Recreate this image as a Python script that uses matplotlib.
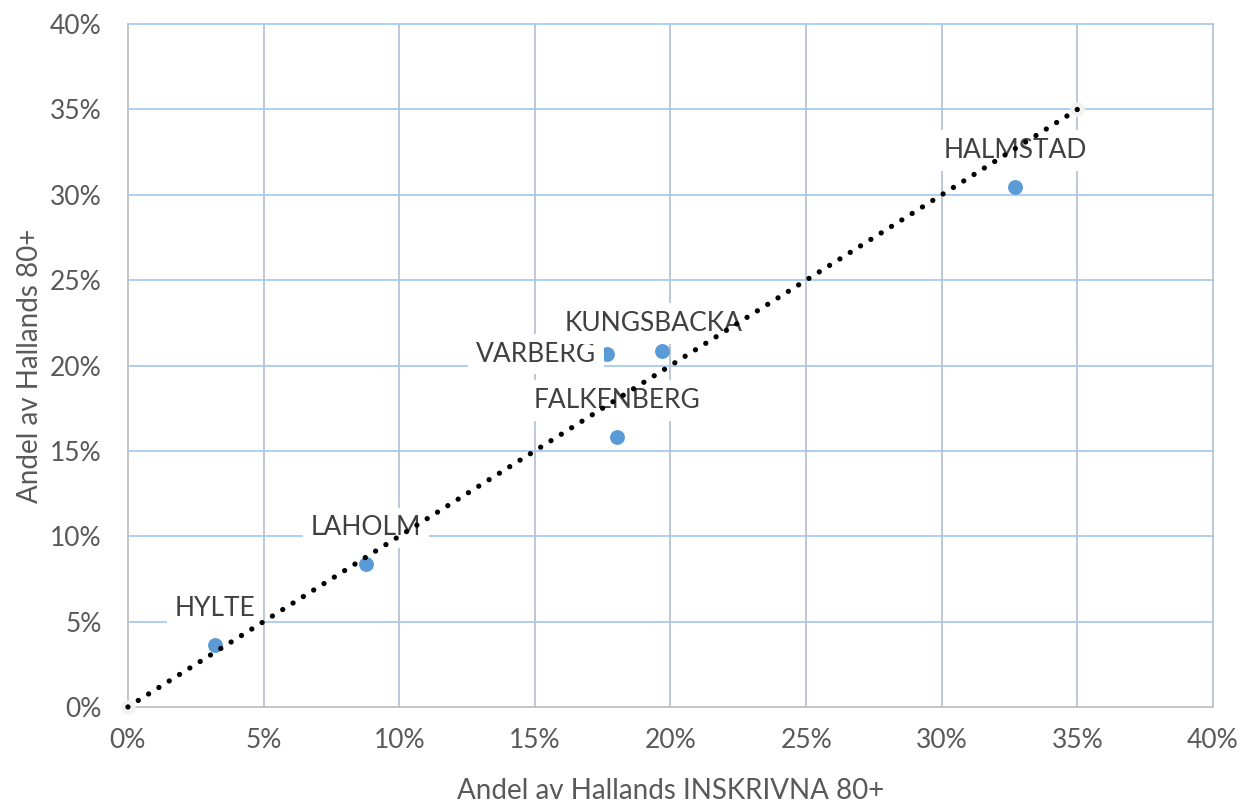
import matplotlib
matplotlib.use("Agg")
import matplotlib.pyplot as plt
from matplotlib.ticker import FuncFormatter, MultipleLocator

# Share of Halland's registered 80+ (x) vs share of Halland's 80+ (y), in percent
municipalities = ["HYLTE", "LAHOLM", "VARBERG", "KUNGSBACKA", "FALKENBERG", "HALMSTAD"]
share_registered = [3.2, 8.77, 17.66, 19.69, 18.03, 32.70]
share_population = [3.63, 8.37, 20.67, 20.85, 15.81, 30.45]

# Label offsets in points (dx, dy) relative to each point
label_offsets = [(0, 26.5), (0, 26), (-51, 0), (-6, 19.5), (0, 26.5), (0, 26.5)]

# Reference line
ref_x = [0, 35]
ref_y = [0, 35]

plt.rcParams["font.family"] = ["Lato", "DejaVu Sans"]

fig = plt.figure(figsize=(12.42, 8.02), dpi=100)
ax = fig.add_axes([0.103, 0.1185, 0.8737, 0.8515])

ax.set_xlim(0, 40)
ax.set_ylim(0, 40)
ax.xaxis.set_major_locator(MultipleLocator(5))
ax.yaxis.set_major_locator(MultipleLocator(5))
pct = FuncFormatter(lambda v, p: f"{v:.0f}%")
ax.xaxis.set_major_formatter(pct)
ax.yaxis.set_major_formatter(pct)

# Grid: horizontal lines light blue, vertical lines grey-blue
for v in range(5, 45, 5):
    ax.axhline(v, color="#A8CBEE", lw=1.3, zorder=0, clip_on=False)
    ax.axvline(v, color="#B5C4D8", lw=1.3, zorder=0, clip_on=False)

for s in ["top", "right"]:
    ax.spines[s].set_visible(False)
for s in ["left", "bottom"]:
    ax.spines[s].set_color("#BFBFBF")
    ax.spines[s].set_linewidth(1.3)

ax.tick_params(length=0, labelsize=19, labelcolor="#595959")
ax.tick_params(axis="y", pad=19)
ax.tick_params(axis="x", pad=15)
ax.set_xlabel("Andel av Hallands INSKRIVNA 80+", fontsize=20, color="#595959", labelpad=18)
ax.set_ylabel("Andel av Hallands 80+", fontsize=20, color="#595959", labelpad=5)

# Points
ax.scatter(share_registered, share_population, s=115, color="#5B9BD5", zorder=3,
           clip_on=False, linewidths=0)

# Data labels
for name, x, y, (dx, dy) in zip(municipalities, share_registered, share_population, label_offsets):
    ax.annotate(name, (x, y), xytext=(dx, dy), textcoords="offset points",
                ha="center", va="center", fontsize=19, color="#404040", zorder=4,
                bbox=dict(boxstyle="square,pad=0.3", fc="white", ec="none"))

# Dotted reference line with pale end markers
ax.plot(ref_x, ref_y, color="black", lw=3.8, linestyle=(0, (0.01, 2.3)),
        dash_capstyle="round", zorder=5, clip_on=False)
ax.scatter(ref_x, ref_y, s=110, color="#F2F2F2", zorder=4.5, clip_on=False, linewidths=0)

fig.savefig("out.png", dpi=100, facecolor="white")
